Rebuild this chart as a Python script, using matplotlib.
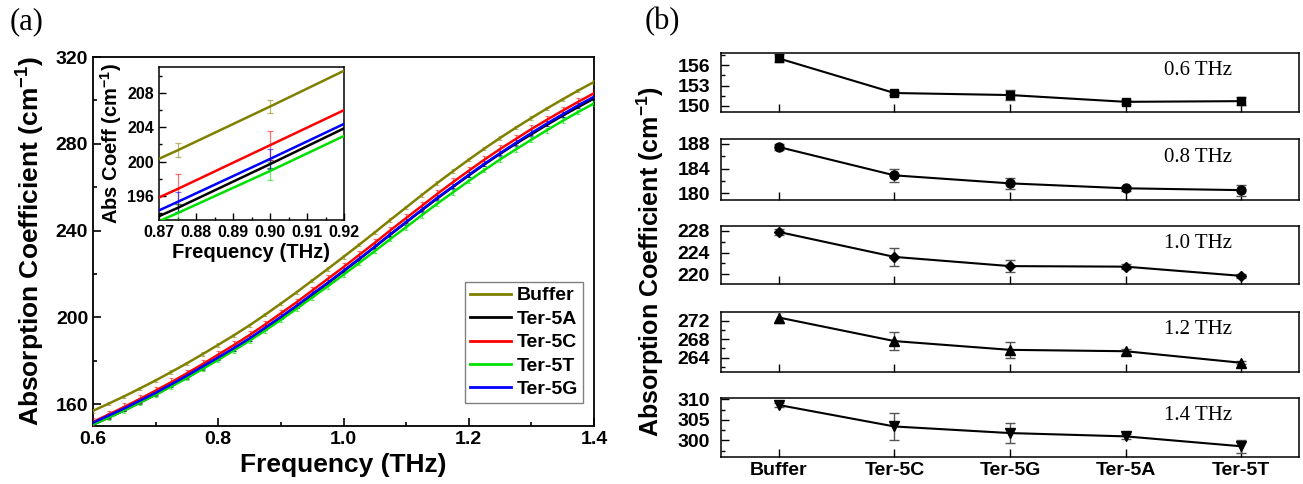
import matplotlib
matplotlib.use('Agg')
import matplotlib.pyplot as plt
from matplotlib import font_manager
from matplotlib.ticker import MultipleLocator, FixedLocator
from matplotlib.lines import Line2D

plt.rcParams['font.family'] = ['Liberation Sans', 'DejaVu Sans']
plt.rcParams['font.weight'] = 'bold'
plt.rcParams['mathtext.fontset'] = 'custom'
plt.rcParams['mathtext.rm'] = 'Liberation Sans:bold'
plt.rcParams['mathtext.bf'] = 'Liberation Sans:bold'
plt.rcParams['mathtext.default'] = 'rm'

_names = {f.name for f in font_manager.fontManager.ttflist}
NARROW = 'Liberation Sans Narrow' if 'Liberation Sans Narrow' in _names else 'Liberation Sans'

# ---------------- data: panel (a) ----------------
freq = [0.600, 0.625, 0.650, 0.675, 0.700, 0.725, 0.750, 0.775, 0.800, 0.825, 0.850,
        0.875, 0.900, 0.925, 0.950, 0.975, 1.000, 1.025, 1.050, 1.075, 1.100, 1.125,
        1.150, 1.175, 1.200, 1.225, 1.250, 1.275, 1.300, 1.325, 1.350, 1.375, 1.400]

buffer_abs = [157.0, 160.3, 163.7, 167.3, 171.0, 174.9, 178.9, 183.1, 187.4, 191.8, 196.4,
              201.3, 206.4, 211.6, 217.0, 222.4, 227.9, 233.5, 239.2, 245.0, 250.7, 256.4,
              262.0, 267.4, 272.7, 277.8, 282.7, 287.4, 291.9, 296.3, 300.5, 304.6, 308.5]
ter5c_abs = [151.9, 155.3, 158.8, 162.5, 166.3, 170.2, 174.3, 178.5, 182.9, 187.3, 191.9,
             196.8, 201.9, 207.0, 212.4, 217.8, 223.2, 228.8, 234.4, 240.2, 245.8, 251.4,
             257.0, 262.4, 267.6, 272.7, 277.6, 282.2, 286.8, 291.1, 295.3, 299.4, 303.3]
ter5g_abs = [151.5, 154.8, 158.1, 161.7, 165.3, 169.2, 173.2, 177.4, 181.6, 185.9, 190.4,
             195.3, 200.3, 205.4, 210.8, 216.0, 221.5, 227.0, 232.6, 238.4, 244.0, 249.6,
             255.2, 260.4, 265.7, 270.8, 275.7, 280.4, 285.0, 289.4, 293.6, 297.8, 301.7]
ter5a_abs = [150.6, 153.9, 157.2, 160.8, 164.5, 168.4, 172.3, 176.5, 180.8, 185.2, 189.8,
             194.6, 199.7, 204.9, 210.3, 215.8, 221.3, 226.8, 232.5, 238.2, 243.8, 249.4,
             254.9, 260.2, 265.4, 270.5, 275.4, 280.0, 284.4, 288.8, 293.0, 297.0, 300.9]
ter5t_abs = [150.6, 153.9, 157.2, 160.8, 164.4, 168.2, 172.1, 176.3, 180.5, 184.8, 189.3,
             194.0, 198.9, 204.0, 209.2, 214.4, 219.7, 225.1, 230.6, 236.2, 241.6, 247.1,
             252.5, 257.7, 262.9, 267.9, 272.8, 277.4, 281.9, 286.3, 290.6, 294.7, 298.6]

series_names = ['Buffer', 'Ter-5A', 'Ter-5C', 'Ter-5T', 'Ter-5G']
series_errs = [0.8, 0.5, 1.7, 1.1, 1.2]
series_colors = ['#808000', '#000000', '#ff0000', '#00e000', '#0000ff']
series_values = [buffer_abs, ter5a_abs, ter5c_abs, ter5t_abs, ter5g_abs]

# ---------------- data: panel (b) ----------------
categories = ['Buffer', 'Ter-5C', 'Ter-5G', 'Ter-5A', 'Ter-5T']
vals_06 = [157.0, 151.9, 151.6, 150.6, 150.7]
errs_06 = [0.6, 0.3, 0.8, 0.3, 0.6]
vals_08 = [187.5, 182.9, 181.6, 180.8, 180.5]
errs_08 = [0.5, 1.1, 0.9, 0.4, 0.9]
vals_10 = [227.8, 223.2, 221.5, 221.4, 219.7]
errs_10 = [0.6, 1.6, 1.1, 0.4, 0.4]
vals_12 = [272.7, 267.6, 265.7, 265.4, 262.9]
errs_12 = [1.2, 1.9, 1.7, 0.5, 0.3]
vals_14 = [308.6, 303.4, 301.8, 301.0, 298.6]
errs_14 = [0.6, 3.2, 2.5, 0.6, 1.6]
panel_labels = ['0.6 THz', '0.8 THz', '1.0 THz', '1.2 THz', '1.4 THz']

W, H = 1303, 484
fig = plt.figure(figsize=(W / 100, H / 100), dpi=100)


def rect(l, t, r, b):
    return [l / W, 1 - b / H, (r - l) / W, (b - t) / H]


def draw_series(ax, cap, elw):
    for name, vals, err, col in zip(series_names, series_values, series_errs, series_colors):
        cont = ax.errorbar(freq, vals, yerr=err, color=col, lw=1.8, ecolor=col,
                           elinewidth=elw, capsize=cap, capthick=elw, zorder=3)
        for c in cont[2]:
            c.set_alpha(0.55)
        for c in cont[1]:
            c.set_alpha(0.55)


# ---- main axes (a)
ax = fig.add_axes(rect(93, 57, 594, 426))
draw_series(ax, 1.5, 0.8)
ax.set_xlim(0.6, 1.4)
ax.set_ylim(150, 320)
ax.xaxis.set_major_locator(MultipleLocator(0.2))
ax.xaxis.set_minor_locator(MultipleLocator(0.1))
ax.yaxis.set_major_locator(MultipleLocator(40))
ax.yaxis.set_minor_locator(MultipleLocator(20))
ax.tick_params(which='both', direction='in', width=1.2, labelsize=14)
ax.tick_params(which='major', length=6)
ax.tick_params(which='minor', length=3)
ax.set_xticklabels([f'{v:.1f}' for v in ax.get_xticks()])
for lab in ax.get_xticklabels() + ax.get_yticklabels():
    lab.set_fontweight('bold')
for s in ax.spines.values():
    s.set_linewidth(1.3)
ax.set_xlabel('Frequency (THz)', fontsize=19, fontweight='bold', labelpad=4)
ax.set_ylabel(r'Absorption Coefficient (cm$^{-1}$)', fontsize=19, fontweight='bold', labelpad=6)

handles = [Line2D([], [], color=c, lw=2) for c in series_colors]
leg = ax.legend(handles, series_names, loc='lower right', bbox_to_anchor=(0.978, 0.062),
                prop={'weight': 'bold', 'size': 14}, frameon=True, fancybox=False,
                edgecolor='#808080', framealpha=1, handlelength=2.1, handletextpad=0.3,
                labelspacing=0.3, borderpad=0.25, borderaxespad=0.0)
leg.get_frame().set_linewidth(1.0)

# ---- inset
ins = fig.add_axes(rect(159, 67, 344, 220))
draw_series(ins, 2, 0.9)
ins.set_xlim(0.87, 0.92)
ins.set_ylim(193.2, 211.0)
ins.xaxis.set_minor_locator(MultipleLocator(0.005))
ins.yaxis.set_minor_locator(MultipleLocator(2))
ins.tick_params(which='both', direction='in', width=1.0, labelsize=11.5)
ins.tick_params(which='major', length=5)
ins.tick_params(which='minor', length=2.5)
ins.set_xticks([0.87, 0.88, 0.89, 0.90, 0.91, 0.92])
ins.set_xticklabels(['0.87', '0.88', '0.89', '0.90', '0.91', '0.92'])
ins.set_yticks([196, 200, 204, 208])
ins.set_yticklabels(['196', '200', '204', '208'])
for lab in ins.get_xticklabels() + ins.get_yticklabels():
    lab.set_fontweight('bold')
for s in ins.spines.values():
    s.set_linewidth(1.1)
ins.set_xlabel('Frequency (THz)', fontsize=14.5, fontweight='bold', labelpad=2)
ins.set_ylabel(r'Abs Coeff (cm$^{-1}$)', fontsize=14.5, fontweight='bold', labelpad=2)

# ---- panel (b)
panel_rects = [(53, 112), (139, 200), (226, 284), (312, 372), (398, 457)]
panel_vals = [vals_06, vals_08, vals_10, vals_12, vals_14]
panel_errs = [errs_06, errs_08, errs_10, errs_12, errs_14]
panel_markers = ['s', 'o', 'D', '^', 'v']
panel_msize = [6, 6.5, 5.5, 7, 7]
panel_ylims = [(149.1, 157.8), (178.9, 188.8), (218.2, 228.9), (260.9, 273.9), (296.0, 310.3)]
panel_ticks = [[150, 153, 156], [180, 184, 188], [220, 224, 228], [264, 268, 272], [300, 305, 310]]
panel_minor = [1.5, 2, 2, 2, 2.5]

xpos = list(range(len(categories)))
for i, (tb, vals, errs) in enumerate(zip(panel_rects, panel_vals, panel_errs)):
    pax = fig.add_axes(rect(721, tb[0], 1299, tb[1]))
    pax.errorbar(xpos, vals, yerr=errs, color='black', lw=1.5, marker=panel_markers[i],
                 ms=panel_msize[i], ecolor='#555555', elinewidth=1.0, capsize=3.5,
                 capthick=1.0, zorder=3)
    pax.set_xlim(-0.5, 4.5)
    pax.set_ylim(*panel_ylims[i])
    pax.yaxis.set_major_locator(FixedLocator(panel_ticks[i]))
    pax.yaxis.set_minor_locator(MultipleLocator(panel_minor[i]))
    pax.set_xticks(xpos)
    pax.tick_params(which='both', direction='in', width=1.0)
    pax.tick_params(axis='y', which='major', length=6, pad=8)
    pax.tick_params(axis='y', which='minor', length=3)
    pax.tick_params(axis='x', which='major', length=6)
    pax.set_yticklabels([str(t) for t in panel_ticks[i]], fontsize=14, fontweight='bold',
                        family=NARROW)
    if i == 4:
        pax.set_xticklabels(categories, fontsize=14, fontweight='bold')
    else:
        pax.set_xticklabels([])
    for s in pax.spines.values():
        s.set_linewidth(1.1)
    pax.text(0.825, 0.70, panel_labels[i], transform=pax.transAxes, ha='center', va='center',
             fontsize=15, fontweight='normal', family='Liberation Serif')

fig.text(650 / W, 1 - 262 / H, r'Absorption Coefficient (cm$^{-1}$)', rotation=90,
         ha='center', va='center', fontsize=18, fontweight='bold')

fig.text(10 / W, 1 - 22 / H, '(a)', fontsize=22, family='Liberation Serif',
         fontweight='normal', ha='left', va='center')
fig.text(645 / W, 1 - 22 / H, '(b)', fontsize=22, family='Liberation Serif',
         fontweight='normal', ha='left', va='center')

fig.savefig('out.png', dpi=100)
